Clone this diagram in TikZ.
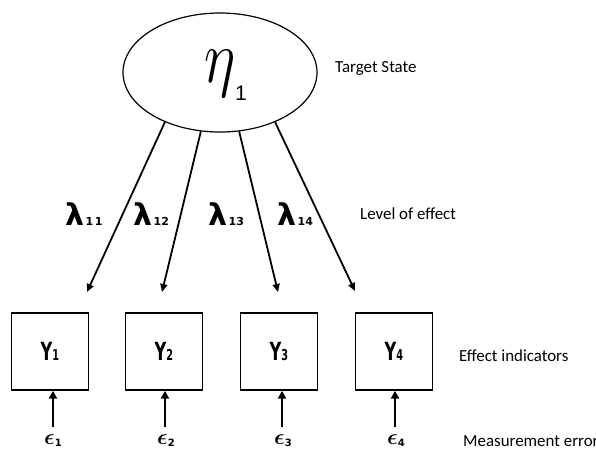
\RequirePackage{fix-cm}
\documentclass[tikz,border=0pt]{standalone}
\usepackage{fontspec}
\usepackage{amsmath,bm}
\setmainfont{Carlito}
\newfontfamily\dvb{DejaVu Sans}
\newfontfamily\lib{Liberation Sans}
\usetikzlibrary{arrows.meta,shapes.geometric}
\newcommand\ylab[1]{\scalebox{0.65}[1]{\dvb\bfseries\fontsize{25}{25}\selectfont Y\fontsize{15}{15}\selectfont #1}}
\newcommand\lamlab[1]{{\dvb\bfseries\fontsize{30}{30}\selectfont λ}\hspace{1.5pt}{\dvb\bfseries\fontsize{11}{11}\selectfont #1}}
\newcommand\epslab[1]{{\fontsize{22}{22}\selectfont$\bm{\epsilon}$}\raisebox{-2pt}{\dvb\bfseries\fontsize{10}{10}\selectfont #1}}
\begin{document}
\begin{tikzpicture}[x=1pt,y=-1pt,
  ybox/.style={draw, line width=1.4pt, minimum width=77pt, minimum height=77pt, inner sep=0pt},
  lat/.style={draw, ellipse, line width=1.2pt, minimum width=194pt, minimum height=119pt, inner sep=0pt},
  load/.style={line width=1.8pt, -{Triangle[length=8pt,width=7pt]}},
  err/.style={line width=2.4pt, -{Triangle[length=8pt,width=8pt]}},
  note/.style={anchor=base west, inner sep=0pt, font=\fontsize{16.9}{18}\selectfont},
  lam/.style={anchor=base west, inner sep=0pt},
  eps/.style={anchor=base west, inner sep=0pt}]
\useasboundingbox (0,0) rectangle (596,448);
% latent variable
\node[lat] (eta) at (220,72.5) {};
\node[anchor=base west, inner sep=0pt] (etasym) at (204,82) {\scalebox{1}[1.25]{\fontsize{60}{60}\selectfont$\eta$}};
\node[anchor=base west, inner sep=0pt] (etasub) at (235,100) {\lib\fontsize{21}{21}\selectfont 1};
% indicators
\node[ybox] (y1) at (50,351.5) {\ylab{1}};
\node[ybox] (y2) at (164,351.5) {\ylab{2}};
\node[ybox] (y3) at (279,351.5) {\ylab{3}};
\node[ybox] (y4) at (394,351.5) {\ylab{4}};
% loading arrow tips
\coordinate (t1) at (87,292);
\coordinate (t2) at (162,292);
\coordinate (t3) at (278,292);
\coordinate (t4) at (355,291);
\draw[load] (eta.222) -- (t1);
\draw[load] (eta.252) -- (t2);
\draw[load] (eta.288) -- (t3);
\draw[load] (eta.318) -- (t4);
% loading labels
\node[lam] (l1) at (65,225) {\lamlab{1\hspace{1.5pt}1}};
\node[lam] (l2) at (133,225) {\lamlab{12}};
\node[lam] (l3) at (208,225) {\lamlab{13}};
\node[lam] (l4) at (277,225) {\lamlab{14}};
% errors
\coordinate (s1) at (53,427);
\coordinate (s2) at (165,427);
\coordinate (s3) at (282,427);
\coordinate (s4) at (395,427);
\draw[err] (s1) -- (s1 |- y1.south);
\draw[err] (s2) -- (s2 |- y2.south);
\draw[err] (s3) -- (s3 |- y3.south);
\draw[err] (s4) -- (s4 |- y4.south);
\node[eps] (e1) at (44,444) {\epslab{1}};
\node[eps] (e2) at (157,444) {\epslab{2}};
\node[eps] (e3) at (274,444) {\epslab{3}};
\node[eps] (e4) at (387,444) {\epslab{4}};
% notes
\node[note] (n1) at (335,72) {Target State};
\node[note] (n2) at (360,219) {Level of effect};
\node[note] (n3) at (459,361) {Effect indicators};
\node[note] (n4) at (463,446) {Measurement error};
\end{tikzpicture}
\end{document}
